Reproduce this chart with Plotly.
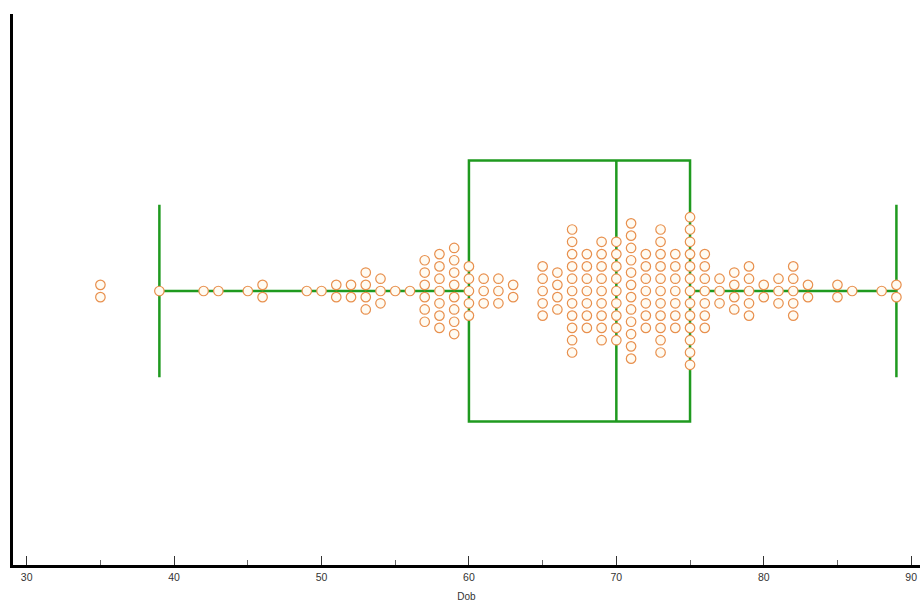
import numpy as np
import plotly.graph_objects as go

# Dob values and how many observations share each value
dob_values = [35, 39, 42, 43, 45, 46, 49, 50, 51, 52, 53, 54, 55, 56, 57, 58, 59, 60,
              61, 62, 63, 65, 66, 67, 68, 69, 70, 71, 72, 73, 74, 75, 76, 77, 78, 79,
              80, 81, 82, 83, 85, 86, 88, 89]
dob_counts = [2, 1, 1, 1, 1, 2, 1, 1, 2, 2, 4, 3, 1, 1, 6, 7, 8, 5,
              3, 3, 2, 5, 4, 11, 7, 9, 9, 12, 7, 11, 7, 13, 7, 3, 4, 5,
              2, 3, 5, 2, 2, 1, 1, 2]
x_ticks = [30, 40, 50, 60, 70, 80, 90]

raw = np.repeat(dob_values, dob_counts)

# beeswarm layout: stack points of equal value vertically around 0
STEP = 12.3
px, py = [], []
for v, c in zip(dob_values, dob_counts):
    for i in range(c):
        px.append(v)
        py.append((i - (c - 1) / 2) * STEP)

GREEN = "#1f9a1f"
fig = go.Figure()
fig.add_trace(go.Box(
    x=raw, y0=0, orientation="h", boxpoints="outliers",
    marker=dict(opacity=0, size=1),
    width=261, whiskerwidth=0.66,
    line=dict(color=GREEN, width=2.5),
    fillcolor="rgba(0,0,0,0)", hoverinfo="skip", showlegend=False,
))
fig.add_trace(go.Scatter(
    x=px, y=py, mode="markers",
    marker=dict(symbol="circle", size=9.5, color="#fffbf2",
                line=dict(color="#e8904e", width=1.2)),
    showlegend=False,
))

fig.update_layout(
    width=920, height=603,
    margin=dict(l=13, r=0, t=14, b=38),
    paper_bgcolor="white", plot_bgcolor="white",
    font=dict(family="Liberation Sans, Arial, sans-serif", size=10, color="#333333"),
    xaxis=dict(
        range=[29.07, 90.6], tickvals=x_ticks, ticktext=[str(t) for t in x_ticks],
        automargin=False,
        showgrid=False, zeroline=False,
        showline=True, linecolor="black", linewidth=3,
        ticks="inside", ticklen=9, tickcolor="#333333", tickwidth=1,
        minor=dict(dtick=5, tick0=0, ticks="inside", ticklen=5, tickcolor="#666666", showgrid=False),
        title=dict(text="Dob", standoff=12, font=dict(size=10, color="#333333")),
        tickfont=dict(size=10.5, color="#333333"),
    ),
    yaxis=dict(
        range=[-274, 277], showgrid=False, zeroline=False, automargin=False,
        showticklabels=False, ticks="",
        showline=True, linecolor="black", linewidth=3,
    ),
)
fig.write_html(
    "out.html",
    config={"displayModeBar": False},
    post_script="document.body.style.margin='0';document.body.style.overflow='hidden';",
)
